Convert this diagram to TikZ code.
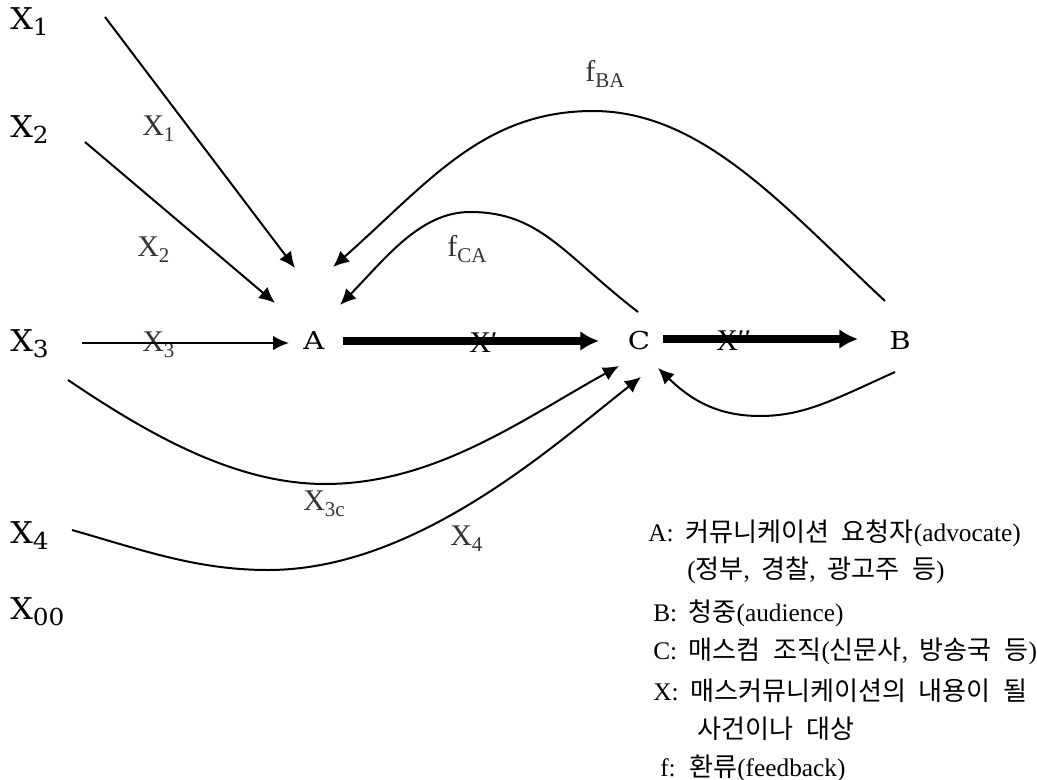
\documentclass[tikz,border=0pt]{standalone}
\usepackage{fontspec}
\setmainfont{Liberation Serif}[WordSpace=1.8]
\newfontfamily\dvs{DejaVu Serif}[FakeStretch=1.06]
\newfontfamily\dvw{DejaVu Serif}[FakeStretch=1.18]
\newfontfamily\kr{Noto Sans CJK KR}[Scale=1.03,WordSpace=2.2]
\usetikzlibrary{arrows.meta}
\makeatletter
\newcommand\subs[2][0.7]{\raisebox{-0.2em}{\fontsize{\fpeval{#1*\f@size}}{0}\selectfont #2}}
\makeatother
\tikzset{
  lbl/.style={font=\dvs\fontsize{22.5}{24}\selectfont, inner sep=0pt, anchor=base west},
  ptn/.style={font=\dvw\fontsize{18.5}{20}\selectfont, inner sep=0pt, anchor=base},
  elbl/.style={font=\fontsize{22.5}{24}\selectfont, text=black!80, inner sep=0pt, anchor=base west},
  leg/.style={font=\fontsize{19}{20}\selectfont, inner sep=0pt, anchor=base west},
  thinarr/.style={line width=1.5pt, -{Latex[length=12pt,width=11pt]}},
  thickarr/.style={line width=5.8pt, -{Latex[length=14pt,width=15pt]}}
}
\begin{document}
\begin{tikzpicture}[x=0.75pt,y=-0.75pt]
\useasboundingbox (0,0) rectangle (1037,780);

% left labels
\node[lbl] (X1) at (10,30) {X\subs[0.78]{1}};
\node[lbl] (X2) at (10,138) {X\subs[0.78]{2}};
\node[lbl] (X3) at (10,351) {X\subs[0.78]{3}};
\node[lbl] (X4) at (10,543) {X\subs[0.78]{4}};
\node[lbl] (X00) at (10,619) {X\subs[0.78]{00}};

% main nodes
\node[ptn] (A) at (314,349) {A};
\node[ptn] (C) at (639,349) {C};
\node[ptn] (B) at (900,349) {B};

% edge labels
\node[elbl] (lx1) at (142,136) {X\subs{1}};
\node[elbl] (lx2) at (137,257) {X\subs{2}};
\node[elbl] (lx3) at (142,351) {X\subs{3}};
\node[elbl] (lx3c) at (303,510) {X\subs{3c}};
\node[elbl] (lx4) at (450,545) {X\subs{4}};
\node[elbl] (lfba) at (585,82) {f\subs{BA}};
\node[elbl] (lfca) at (447,257) {f\subs{CA}};
\node[elbl,text=black] (lxp) at (469,352) {X′};
\node[elbl,text=black] (lxpp) at (716,350) {X′′};

% free ends and turning points
\coordinate (s1) at (105,17);
\coordinate (s2) at (85,142);
\coordinate (s3) at (82,343);
\coordinate (s3c) at (68,380);
\coordinate (s4) at (72,530);
\coordinate (m3c) at (325,484);
\coordinate (m4) at (268,570);
\coordinate (mBC) at (760,416);
\coordinate (mCA) at (470,212);
\coordinate (mBA) at (593,111);

% connectors
\draw[thinarr] (s1) -- ([shift={(-19,-81)}]A.base);
\draw[thinarr] (s2) -- ([shift={(-39,-46)}]A.base);
\draw[thinarr] (s3) -- ([shift={(-25,-6)}]A.base);
\draw[thickarr] ([shift={(29,-8)}]A.base) -- ([shift={(-40,-8)}]C.base);
\draw[thickarr] ([shift={(24,-10)}]C.base) -- ([shift={(-42,-10)}]B.base);
\draw[thinarr] (s3c) .. controls (148,434) and (235,484) .. (m3c)
  .. controls (435,484) and (523,419) .. ([shift={(-20,17)}]C.base);
\draw[thinarr] (s4) .. controls (142,550) and (197,570) .. (m4)
  .. controls (417,570) and (554,445) .. ([shift={(2,28)}]C.base);
\draw[thinarr] ([shift={(-5,23)}]B.base) .. controls (835,399) and (805,416) .. (mBC)
  .. controls (720,416) and (693,402) .. ([shift={(19,19)}]C.base);
\draw[thinarr] ([shift={(-1,-37)}]C.base) .. controls (563,254) and (540,212) .. (mCA)
  .. controls (420,212) and (385,259) .. ([shift={(26,-44)}]A.base);
\draw[thinarr] ([shift={(-15,-48)}]B.base) .. controls (785,208) and (703,111) .. (mBA)
  .. controls (483,111) and (428,183) .. ([shift={(19,-82)}]A.base);

% legend
\node[leg] (la) at (648,541) {A: {\kr 커뮤니케이션 요청자}(advocate)};
\node[leg] (la2) at (687,578) {({\kr 정부}, {\kr 경찰}, {\kr 광고주 등})};
\node[leg] (lb) at (653,621) {B: {\kr 청중}(audience)};
\node[leg] (lc) at (653,659) {C: {\kr 매스컴 조직}({\kr 신문사}, {\kr 방송국 등})};
\node[leg] (lx) at (653,700) {X: {\kr 매스커뮤니케이션의 내용이 될}};
\node[leg] (lxb) at (697,738) {\kr 사건이나 대상};
\node[leg] (lf) at (660,776) {f: {\kr 환류}(feedback)};
\end{tikzpicture}
\end{document}
